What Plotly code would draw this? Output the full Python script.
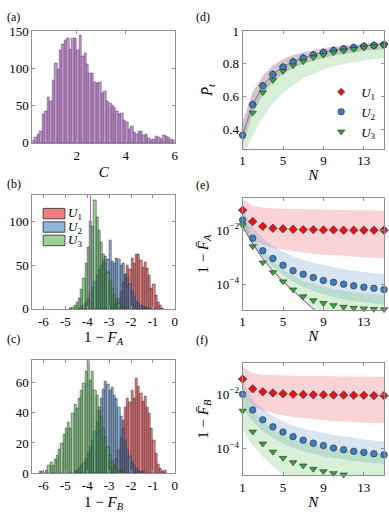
import numpy as np
import plotly.graph_objects as go

# ---------------- data ----------------
# (a) histogram of C, bins of 0.1 starting at 0.2
c_left = 0.2
c_counts = [3, 7, 11, 15, 39, 42, 62, 56, 84, 107, 99, 125, 132, 138, 140, 126, 140, 141, 124, 145,
            117, 121, 105, 93, 94, 82, 80, 81, 67, 70, 56, 53, 50, 48, 42, 38, 40, 30, 28, 18,
            22, 14, 12, 15, 16, 10, 11, 6, 3, 5, 9, 7, 5, 10, 9, 7, 5, 3]

# (b) histograms of log10(1 - F_A)
fa_u1_left = -3.0
fa_u1 = [2, 3, 5, 8, 12, 20, 30, 40, 50, 45, 58, 52, 63, 62, 56, 48, 53, 46, 38, 24, 28, 15, 8, 4, 1]
fa_u2_left = -4.4
fa_u2 = [1, 2, 4, 8, 12, 18, 25, 32, 38, 45, 50, 56, 60, 57, 78, 55, 52, 58, 57, 50, 52, 40, 36, 28,
         20, 14, 9, 6, 4, 3, 2, 1, 1]
fa_u3_left = -4.8
fa_u3 = [1, 2, 4, 7, 12, 22, 35, 52, 70, 100, 95, 124, 105, 90, 76, 62, 52, 42, 32, 24, 16, 10, 6, 3, 2, 1]
fa_line = -3.85

# (c) histograms of log10(1 - F_B)
fb_u1_left = -3.0
fb_u1 = [2, 3, 6, 10, 16, 24, 35, 44, 50, 47, 55, 50, 63, 58, 53, 48, 51, 44, 40, 30, 22, 13, 6, 3, 1, 2]
fb_u2_left = -4.6
fb_u2 = [1, 2, 3, 5, 7, 10, 13, 17, 22, 28, 34, 42, 50, 56, 61, 59, 55, 57, 52, 50, 44, 38, 30, 22,
         16, 11, 7, 5, 3, 2, 1, 1]
fb_u3_left = -6.2
fb_u3 = [1, 1, 0, 2, 5, 7, 5, 9, 12, 16, 20, 26, 30, 34, 30, 40, 46, 43, 50, 55, 60, 68, 75, 62, 68,
         55, 52, 44, 37, 30, 24, 17, 12, 8, 5, 3, 1, 1]

N = list(range(1, 16))

# (d) mean P_t with bands
pt_u1 = [0.365, 0.552, 0.668, 0.737, 0.782, 0.815, 0.837, 0.856, 0.872, 0.884, 0.894, 0.902, 0.910, 0.915, 0.920]
pt_u2 = [0.362, 0.550, 0.665, 0.735, 0.780, 0.812, 0.835, 0.855, 0.870, 0.882, 0.892, 0.900, 0.908, 0.913, 0.918]
pt_u3 = [None, 0.500, 0.625, 0.700, 0.755, 0.790, 0.815, 0.840, 0.855, 0.870, 0.880, 0.890, 0.900, 0.908, 0.915]
pt_u1_hi = [0.45, 0.63, 0.73, 0.79, 0.83, 0.855, 0.872, 0.886, 0.897, 0.906, 0.913, 0.919, 0.924, 0.929, 0.935]
pt_u1_lo = [0.30, 0.49, 0.61, 0.69, 0.74, 0.775, 0.80, 0.82, 0.838, 0.852, 0.863, 0.872, 0.88, 0.886, 0.89]
pt_u2_hi = [0.445, 0.625, 0.725, 0.787, 0.828, 0.853, 0.87, 0.884, 0.895, 0.904, 0.911, 0.917, 0.922, 0.927, 0.933]
pt_u2_lo = [0.31, 0.50, 0.615, 0.69, 0.74, 0.775, 0.80, 0.82, 0.838, 0.852, 0.863, 0.872, 0.88, 0.886, 0.89]
pt_u3_hi = [0.36, 0.55, 0.66, 0.73, 0.775, 0.81, 0.83, 0.85, 0.865, 0.878, 0.888, 0.897, 0.905, 0.91, 0.915]
pt_u3_lo = [0.22, 0.36, 0.47, 0.56, 0.62, 0.67, 0.71, 0.74, 0.765, 0.785, 0.80, 0.81, 0.82, 0.83, 0.835]

# (e) log10(1 - mean F_A)
ea_u1 = [-1.26, -1.68, -1.86, -1.93, -1.95, -1.97, -1.98, -1.98, -1.99, -1.99, -2.0, -2.0, -2.0, -2.0, -2.0]
ea_u2 = [-1.62, -2.30, -2.76, -3.05, -3.30, -3.50, -3.63, -3.75, -3.86, -3.93, -4.0, -4.06, -4.11, -4.15, -4.2]
ea_u3 = [-1.82, -2.6, -3.2, -3.56, -3.9, -4.2, -4.45, -4.6, -4.7, -4.78, -4.84, -4.88, -4.9, -4.92, -4.93]
ea_u1_hi = [-0.85, -1.1, -1.17, -1.2, -1.21, -1.22, -1.23, -1.24, -1.24, -1.25, -1.25, -1.26, -1.26, -1.27, -1.27]
ea_u1_lo = [-1.9, -2.35, -2.55, -2.65, -2.72, -2.78, -2.83, -2.87, -2.9, -2.93, -2.96, -2.98, -3.0, -3.02, -3.04]
ea_u2_hi = [-1.2, -1.9, -2.3, -2.6, -2.8, -2.97, -3.1, -3.2, -3.3, -3.37, -3.44, -3.5, -3.55, -3.6, -3.63]
ea_u2_lo = [-1.9, -2.5, -3.0, -3.35, -3.65, -3.9, -4.1, -4.25, -4.38, -4.48, -4.56, -4.63, -4.68, -4.72, -4.76]
ea_u3_hi = [-1.5, -2.2, -2.75, -3.15, -3.45, -3.7, -3.88, -4.0, -4.1, -4.18, -4.25, -4.3, -4.34, -4.37, -4.4]
ea_u3_lo = [-1.95, -2.6, -3.12, -3.57, -3.97, -4.32, -4.67, -5.0, -5.3, -5.5, -5.5, -5.5, -5.5, -5.5, -5.5]
ea_theory = [-1.85, -2.5, -3.05, -3.5, -3.9, -4.25, -4.6, -4.93, -5.25]

# (f) log10(1 - mean F_B)
fb_m_u1 = [-1.44, -1.8, -1.91, -1.95, -1.98, -2.0, -2.01, -2.02, -2.02, -2.03, -2.03, -2.04, -2.04, -2.05, -2.05]
fb_m_u2 = [-2.0, -2.58, -2.94, -3.2, -3.39, -3.56, -3.69, -3.8, -3.89, -3.98, -4.04, -4.1, -4.14, -4.19, -4.23]
fb_m_u3 = [-2.61, -3.38, -3.82, -4.12, -4.35, -4.51, -4.63, -4.75, -4.84, -4.91, -4.96, None, None, None, None]
fb_u1_hi = [-1.0, -1.22, -1.28, -1.3, -1.31, -1.32, -1.33, -1.33, -1.34, -1.34, -1.35, -1.35, -1.35, -1.36, -1.36]
fb_u1_lo = [-2.1, -2.45, -2.6, -2.7, -2.78, -2.84, -2.88, -2.92, -2.95, -2.98, -3.0, -3.02, -3.04, -3.06, -3.08]
fb_u2_hi = [-1.5, -2.2, -2.55, -2.8, -3.0, -3.15, -3.26, -3.35, -3.43, -3.5, -3.56, -3.62, -3.66, -3.7, -3.74]
fb_u2_lo = [-2.5, -3.0, -3.35, -3.6, -3.8, -3.97, -4.1, -4.2, -4.28, -4.35, -4.41, -4.46, -4.5, -4.53, -4.56]
fb_u3_hi = [-1.9, -2.6, -3.0, -3.3, -3.5, -3.65, -3.77, -3.86, -3.93, -3.99, -4.04, -4.08, -4.12, -4.16, -4.2]
fb_u3_lo = [-3.3, -3.9, -4.3, -4.65, -4.95, -5.2, -5.2, -5.2, -5.2, -5.2, -5.2, -5.2, -5.2, -5.2, -5.2]

labels = ["<i>U</i><sub>1</sub>", "<i>U</i><sub>2</sub>", "<i>U</i><sub>3</sub>"]

# ---------------- styles ----------------
FONT = "Liberation Serif"
BIN = 0.1
bar_fill = ["rgba(228,50,55,0.62)", "rgba(60,125,190,0.58)", "rgba(80,180,80,0.58)"]
band_fill = ["rgba(236,110,120,0.30)", "rgba(110,155,205,0.27)", "rgba(110,195,110,0.27)"]
mk_col = ["#e3141c", "#3b7fc0", "#36a336"]
mk_sym = ["diamond", "circle", "triangle-down"]
mk_size_d = [5.5, 6.5, 6.5]
mk_size = [6.5, 6.5, 6.5]
EDGE = "#2a2a2a"


def centers(left, counts):
    return left + BIN * (np.arange(len(counts)) + 0.5)


def lg(v):
    return [None if x is None else 10 ** x for x in v]


fig = go.Figure()

# (a)
fig.add_trace(go.Bar(x=centers(c_left, c_counts), y=c_counts, width=BIN,
                     marker=dict(color="rgba(178,120,196,0.78)", line=dict(color="#4a3352", width=0.45)),
                     xaxis="x", yaxis="y", showlegend=False))

# (b) and (c)
for ax, series in [("2", [(fa_u1_left, fa_u1), (fa_u2_left, fa_u2), (fa_u3_left, fa_u3)]),
                   ("3", [(fb_u1_left, fb_u1), (fb_u2_left, fb_u2), (fb_u3_left, fb_u3)])]:
    for i, (left, cnt) in enumerate(series):
        fig.add_trace(go.Bar(x=centers(left, cnt), y=cnt, width=BIN,
                             marker=dict(color=bar_fill[i], line=dict(color=EDGE, width=0.5)),
                             xaxis="x" + ax, yaxis="y" + ax, showlegend=False))

# (d)
for i, (lo, hi) in enumerate([(pt_u1_lo, pt_u1_hi), (pt_u2_lo, pt_u2_hi), (pt_u3_lo, pt_u3_hi)]):
    fig.add_trace(go.Scatter(x=N, y=lo, mode="lines", line=dict(width=0), xaxis="x4", yaxis="y4",
                             showlegend=False, hoverinfo="skip"))
    fig.add_trace(go.Scatter(x=N, y=hi, mode="lines", line=dict(width=0), fill="tonexty",
                             fillcolor=band_fill[i], xaxis="x4", yaxis="y4", showlegend=False,
                             hoverinfo="skip"))
fig.add_trace(go.Scatter(x=N, y=pt_u1, mode="lines", line=dict(color="#7a7a7a", width=1),
                         xaxis="x4", yaxis="y4", showlegend=False))
for i, ys in enumerate([pt_u1, pt_u2, pt_u3]):
    fig.add_trace(go.Scatter(x=N, y=ys, mode="markers", name=labels[i], cliponaxis=False,
                             marker=dict(symbol=mk_sym[i], size=mk_size_d[i], color=mk_col[i],
                                         line=dict(color=EDGE, width=0.6)),
                             xaxis="x4", yaxis="y4", showlegend=True))

# (e) and (f)
for ax, bands, means in [("5", [(ea_u1_lo, ea_u1_hi), (ea_u2_lo, ea_u2_hi), (ea_u3_lo, ea_u3_hi)],
                          [ea_u1, ea_u2, ea_u3]),
                         ("6", [(fb_u1_lo, fb_u1_hi), (fb_u2_lo, fb_u2_hi), (fb_u3_lo, fb_u3_hi)],
                          [fb_m_u1, fb_m_u2, fb_m_u3])]:
    for i, (lo, hi) in enumerate(bands):
        fig.add_trace(go.Scatter(x=N, y=lg(lo), mode="lines", line=dict(width=0),
                                 xaxis="x" + ax, yaxis="y" + ax, showlegend=False, hoverinfo="skip"))
        fig.add_trace(go.Scatter(x=N, y=lg(hi), mode="lines", line=dict(width=0), fill="tonexty",
                                 fillcolor=band_fill[i], xaxis="x" + ax, yaxis="y" + ax,
                                 showlegend=False, hoverinfo="skip"))
    if ax == "5":
        fig.add_trace(go.Scatter(x=N[:len(ea_theory)], y=lg(ea_theory), mode="lines",
                                 line=dict(color="#9b3fb5", width=1),
                                 xaxis="x5", yaxis="y5", showlegend=False))
    for i, ys in enumerate(means):
        fig.add_trace(go.Scatter(x=N, y=lg(ys), mode="markers", cliponaxis=False,
                                 marker=dict(symbol=mk_sym[i], size=mk_size[i], color=mk_col[i],
                                             line=dict(color=EDGE, width=0.6)),
                                 xaxis="x" + ax, yaxis="y" + ax, showlegend=False))

# vertical reference line in (b)
fig.add_shape(type="line", x0=fa_line, x1=fa_line, y0=0, y1=1, xref="x2", yref="y2 domain",
              line=dict(color="#b56ad0", width=1))

# legend patches in (b)
for i in range(3):
    y1 = 0.885 - i * 0.118
    fig.add_shape(type="rect", x0=0.075, x1=0.228, y0=y1 - 0.092, y1=y1,
                  xref="x2 domain", yref="y2 domain", fillcolor=bar_fill[i],
                  line=dict(color=EDGE, width=0.8))
    fig.add_annotation(x=0.238, y=y1 - 0.046, xref="x2 domain", yref="y2 domain", text=labels[i],
                       showarrow=False, xanchor="left", yanchor="middle",
                       font=dict(family=FONT, size=13, color="black"))

W, H = 389, 514
xL = [30 / W, 175 / W]
xR = [244 / W, 388 / W]


def ydom(top, bot):
    return [1 - bot / H, 1 - top / H]


axis_style = dict(showline=True, linecolor="#8f8f8f", linewidth=1, mirror="ticks", ticks="inside",
                  ticklen=3, tickcolor="#8f8f8f", showgrid=False, zeroline=False,
                  tickfont=dict(family=FONT, size=13, color="black"))
title_font = dict(family=FONT, size=15, color="black")

fig.update_layout(
    width=W, height=H, margin=dict(l=0, r=0, t=0, b=0),
    paper_bgcolor="white", plot_bgcolor="white", barmode="overlay", bargap=0,
    font=dict(family=FONT, color="black"),
    xaxis=dict(axis_style, domain=xL, anchor="y", range=[0.2, 6], tickvals=[2, 4, 6],
               title=dict(text="<i>C</i>", font=title_font, standoff=4)),
    yaxis=dict(axis_style, domain=ydom(25, 140), anchor="x", range=[0, 150], tickvals=[0, 50, 100, 150]),
    xaxis2=dict(axis_style, domain=xL, anchor="y2", range=[-6.5, 0], tickvals=[-6, -5, -4, -3, -2, -1, 0],
                ticktext=["-6", "-5", "-4", "-3", "-2", "-1", "0"],
                title=dict(text="1 − <i>F</i><sub><i>A</i></sub>", font=title_font, standoff=2)),
    yaxis2=dict(axis_style, domain=ydom(194, 311), anchor="x2", range=[0, 130], tickvals=[0, 50, 100]),
    xaxis3=dict(axis_style, domain=xL, anchor="y3", range=[-6.5, 0], tickvals=[-6, -5, -4, -3, -2, -1, 0],
                ticktext=["-6", "-5", "-4", "-3", "-2", "-1", "0"],
                title=dict(text="1 − <i>F</i><sub><i>B</i></sub>", font=title_font, standoff=4)),
    yaxis3=dict(axis_style, domain=ydom(364, 480), anchor="x3", range=[0, 75], tickvals=[0, 20, 40, 60]),
    xaxis4=dict(axis_style, domain=xR, anchor="y4", range=[1, 15], tickvals=[1, 5, 9, 13],
                title=dict(text="<i>N</i>", font=title_font, standoff=2)),
    yaxis4=dict(axis_style, domain=ydom(25, 146), anchor="x4", range=[0.28, 1], tickvals=[0.4, 0.6, 0.8, 1],
                ticktext=["0.4", "0.6", "0.8", "1"],
                title=dict(text="<i>P̄</i><sub><i>t</i></sub>", font=title_font, standoff=6)),
    xaxis5=dict(axis_style, domain=xR, anchor="y5", range=[1, 15], tickvals=[1, 5, 9, 13],
                title=dict(text="<i>N</i>", font=title_font, standoff=2)),
    yaxis5=dict(axis_style, domain=ydom(197, 312), anchor="x5", type="log", range=[-4.95, -0.82],
                tickvals=[1e-4, 1e-2], ticktext=["10<sup>−4</sup>", "10<sup>−2</sup>"],
                title=dict(text="1 − <i>F̄</i><sub><i>A</i></sub>", font=title_font, standoff=4)),
    xaxis6=dict(axis_style, domain=xR, anchor="y6", range=[1, 15], tickvals=[1, 5, 9, 13],
                title=dict(text="<i>N</i>", font=title_font, standoff=2)),
    yaxis6=dict(axis_style, domain=ydom(367, 482), anchor="x6", type="log", range=[-4.97, -0.86],
                tickvals=[1e-4, 1e-2], ticktext=["10<sup>−4</sup>", "10<sup>−2</sup>"],
                title=dict(text="1 − <i>F̄</i><sub><i>B</i></sub>", font=title_font, standoff=4)),
    legend=dict(x=324 / W, y=1 - 72 / H, xanchor="left", yanchor="top", bgcolor="rgba(0,0,0,0)",
                font=dict(family=FONT, size=13, color="black"), itemwidth=30, tracegroupgap=0,
                traceorder="normal"),
)

for txt, px_x, px_y in [("(a)", 2, 10), ("(b)", 2, 182), ("(c)", 2, 342),
                        ("(d)", 194, 10), ("(e)", 194, 183), ("(f)", 194, 343)]:
    fig.add_annotation(x=px_x / W, y=1 - px_y / H, xref="paper", yref="paper", text=txt,
                       showarrow=False, xanchor="left", yanchor="middle",
                       font=dict(family=FONT, size=12, color="black"))

fig.write_html("out.html", config={"displayModeBar": False},
               post_script="document.body.style.margin='0';")
